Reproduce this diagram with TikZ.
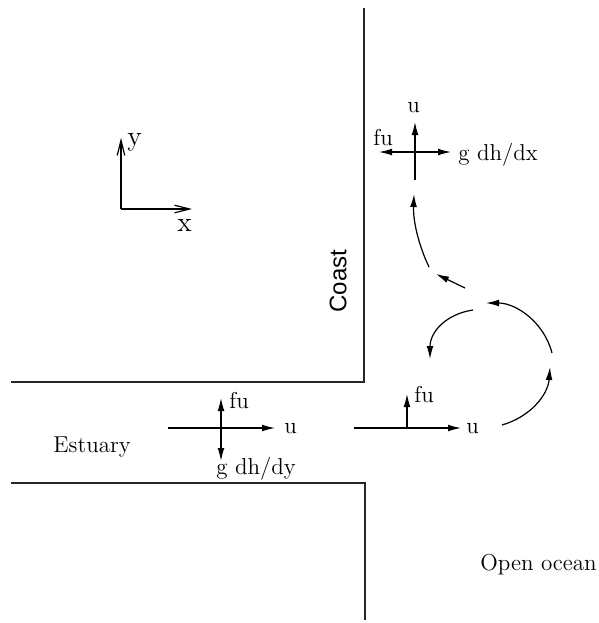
\documentclass[tikz,border=0pt]{standalone}
\usepackage{fontspec}
\newfontfamily\coastfont{Liberation Sans}
\usetikzlibrary{arrows.meta}
\begin{document}
\begin{tikzpicture}[x=0.5pt,y=-0.5pt,
  wall/.style={line width=0.65pt, draw=black!85},
  force/.style={line width=0.6pt, -{Latex[length=6.5pt,width=3.4pt]}},
  axis/.style={line width=0.6pt, -{Straight Barb[length=7.5pt,width=3.8pt]}},
  lbl/.style={inner sep=0pt, anchor=base west, font=\fontsize{11.5}{13}\selectfont},
  axlbl/.style={inner sep=0pt, anchor=base west, font=\fontsize{14}{16}\selectfont}]
\path[use as bounding box] (0,0) rectangle (599,623);
% coast walls
\draw[wall] (11,382) -- (364,382) -- (364,8);
\draw[wall] (11,483) -- (365,483) -- (365,620);
% axes
\coordinate (o) at (121,209);
\coordinate (ytip) at (121,138);
\coordinate (xtip) at (192,209);
\draw[axis] (o) -- (ytip);
\draw[axis] (o) -- (xtip);
\node[axlbl] (ylab) at (127,145) {y};
\node[axlbl] (xlab) at (177,231) {x};
% estuary cross
\coordinate (e1) at (168,428);
\coordinate (e2) at (275,428);
\coordinate (ec) at (221,428);
\coordinate (eup) at (221,398);
\coordinate (edn) at (221,461);
\draw[force] (e1) -- (e2);
\draw[force] (ec) -- (eup);
\draw[force] (ec) -- (edn);
\node[lbl] (efu) at (229,408) {fu};
\node[lbl] (eu) at (284,433) {u};
\node[lbl] (egdh) at (216,474) {g dh/dy};
% mouth
\coordinate (m1) at (354,428);
\coordinate (m2) at (461,428);
\coordinate (mc) at (407,428);
\coordinate (mup) at (407,394);
\draw[force] (m1) -- (m2);
\draw[force] (mc) -- (mup);
\node[lbl] (mfu) at (414,402) {fu};
\node[lbl] (mu) at (466,433) {u};
% eddy
\coordinate (c1s) at (502,425);
\coordinate (c1e) at (550,367);
\coordinate (c2s) at (552,353);
\coordinate (c2e) at (486,303);
\coordinate (c3s) at (473,310);
\coordinate (c3e) at (430,359);
\coordinate (c4s) at (465,288);
\coordinate (c4e) at (436,274);
\coordinate (c5s) at (429,267);
\coordinate (c5e) at (414,194);
\draw[force] (c1s) .. controls (530,417) and (548,395) .. (c1e);
\draw[force] (c2s) .. controls (544,322) and (516,303) .. (c2e);
\draw[force] (c3s) .. controls (446,314) and (430,332) .. (c3e);
\draw[force] (c4s) -- (c4e);
\draw[force] (c5s) .. controls (419,246) and (413,222) .. (c5e);
% coast cross
\coordinate (tc) at (415,152);
\coordinate (tbot) at (415,180);
\coordinate (tup) at (415,122);
\coordinate (tl) at (379,152);
\coordinate (tr) at (451,152);
\draw[force] (tbot) -- (tup);
\draw[force] (tc) -- (tl);
\draw[force] (tc) -- (tr);
\node[lbl] (tu) at (407,112) {u};
\node[lbl] (tfu) at (373,145) {fu};
\node[lbl] (tgdh) at (458,160) {g dh/dx};
% labels
\node[lbl] (est) at (53,452) {Estuary};
\node[lbl] (ocean) at (480,570) {Open ocean};
\node[inner sep=0pt, rotate=90, font=\coastfont\fontsize{12}{14}\selectfont] (coast) at (338,281) {Coast};
\end{tikzpicture}
\end{document}
